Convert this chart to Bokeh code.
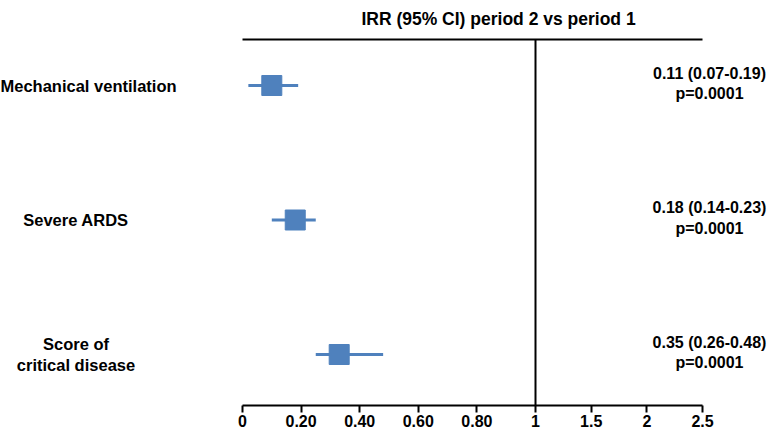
from bokeh.plotting import figure
from bokeh.models import ColumnDataSource, FixedTicker, Label
from bokeh.core.properties import value
from bokeh.embed import file_html
from bokeh.resources import INLINE

# ---- data ----
outcomes_single = ["Mechanical ventilation"]
outcomes_multi = ["Severe ARDS", "Score of\ncritical disease"]
irr_est = [0.10, 0.18, 0.33]
ci_low = [0.02, 0.10, 0.25]
ci_high = [0.19, 0.25, 0.48]
summary_text = ["0.11 (0.07-0.19)\np=0.0001",
                "0.18 (0.14-0.23)\np=0.0001",
                "0.35 (0.26-0.48)\np=0.0001"]
tick_values = [0, 0.2, 0.4, 0.6, 0.8, 1, 1.5, 2, 2.5]
tick_labels = ["0", "0.20", "0.40", "0.60", "0.80", "1", "1.5", "2", "2.5"]
title_text = "IRR (95% CI) period 2 vs period 1"
row_pos = [3, 2, 1]

# ---- broken axis: 0..1 linear, then compressed 1..2.5 ----
K = 0.38
def tx(v):
    return v if v <= 1 else 1 + (v - 1) * K

FONT = "Liberation Sans"
BLUE = "#4F81BD"

W = 769
H = 430
FH = 405
PX = 293.0          # pixels per unit (0..1)
X0 = 242            # pixel of value 0
S = 134.5           # pixels per row
ROW1 = 85           # pixel of first row

x_start = -X0 / PX
x_end = (W - X0) / PX
y_top = 3 + ROW1 / S
y_bot = y_top - FH / S

def fx(px):
    return (px - X0) / PX

def fy(py):
    return y_top - py / S

p = figure(width=W, height=H, frame_width=W, frame_height=FH,
           x_range=(x_start, x_end), y_range=(y_bot, y_top),
           output_backend="svg", toolbar_location=None,
           y_axis_type=None, min_border=0)
p.outline_line_color = None
p.xgrid.visible = False
p.ygrid.visible = False
p.background_fill_color = "white"
p.border_fill_color = "white"

src = ColumnDataSource(dict(
    y=row_pos,
    est=[tx(v) for v in irr_est],
    lo=[tx(v) for v in ci_low],
    hi=[tx(v) for v in ci_high],
    summary=summary_text,
))

# reference lines
top_y = fy(39)
p.segment(x0=[0], y0=[top_y], x1=[tx(2.5)], y1=[top_y], line_color="black", line_width=2)
p.segment(x0=[tx(1)], y0=[top_y], x1=[tx(1)], y1=[y_bot], line_color="black", line_width=2)

# CIs and estimates
p.segment(x0="lo", y0="y", x1="hi", y1="y", source=src, line_color=BLUE, line_width=3)
p.scatter(x="est", y="y", source=src, marker="square", size=20,
          fill_color=BLUE, line_color=BLUE)

# left labels
p.text(x=[fx(0)], y=[row_pos[0]], text=outcomes_single, text_align="left",
       text_baseline="middle", text_font=value(FONT), text_font_size="16.5px",
       text_font_style="bold", text_color="black")
p.text(x=[fx(75.5), fx(75.5)], y=row_pos[1:], text=outcomes_multi, text_align="center",
       text_baseline="middle", text_font=value(FONT), text_font_size="16.5px",
       text_font_style="bold", text_color="black", text_line_height=1.15)

# right summaries
p.text(x=fx(709), y="y", text="summary", source=src, text_align="center",
       text_baseline="middle", text_font=value(FONT), text_font_size="16px",
       text_font_style="bold", text_color="black", text_line_height=1.2, y_offset=-2)

# title
p.add_layout(Label(x=fx(498), y=fy(18), text=title_text, text_align="center",
                   text_baseline="middle", text_font=FONT, text_font_size="17.5px",
                   text_font_style="bold", text_color="black"))

# x axis
ticks = [tx(v) for v in tick_values]
ax = p.xaxis[0]
ax.ticker = FixedTicker(ticks=ticks)
ax.major_label_overrides = {t: lab for t, lab in zip(ticks, tick_labels)}
ax.bounds = (0, tx(2.5))
ax.axis_line_width = 2
ax.axis_line_color = "black"
ax.major_tick_line_width = 2
ax.major_tick_line_color = "black"
ax.major_tick_in = 0
ax.major_tick_out = 7
ax.minor_tick_line_color = None
ax.major_label_standoff = 2
ax.major_label_text_font = FONT
ax.major_label_text_font_size = "16px"
ax.major_label_text_font_style = "bold"
ax.major_label_text_color = "black"

open("out.html", "w").write(file_html(p, INLINE))
